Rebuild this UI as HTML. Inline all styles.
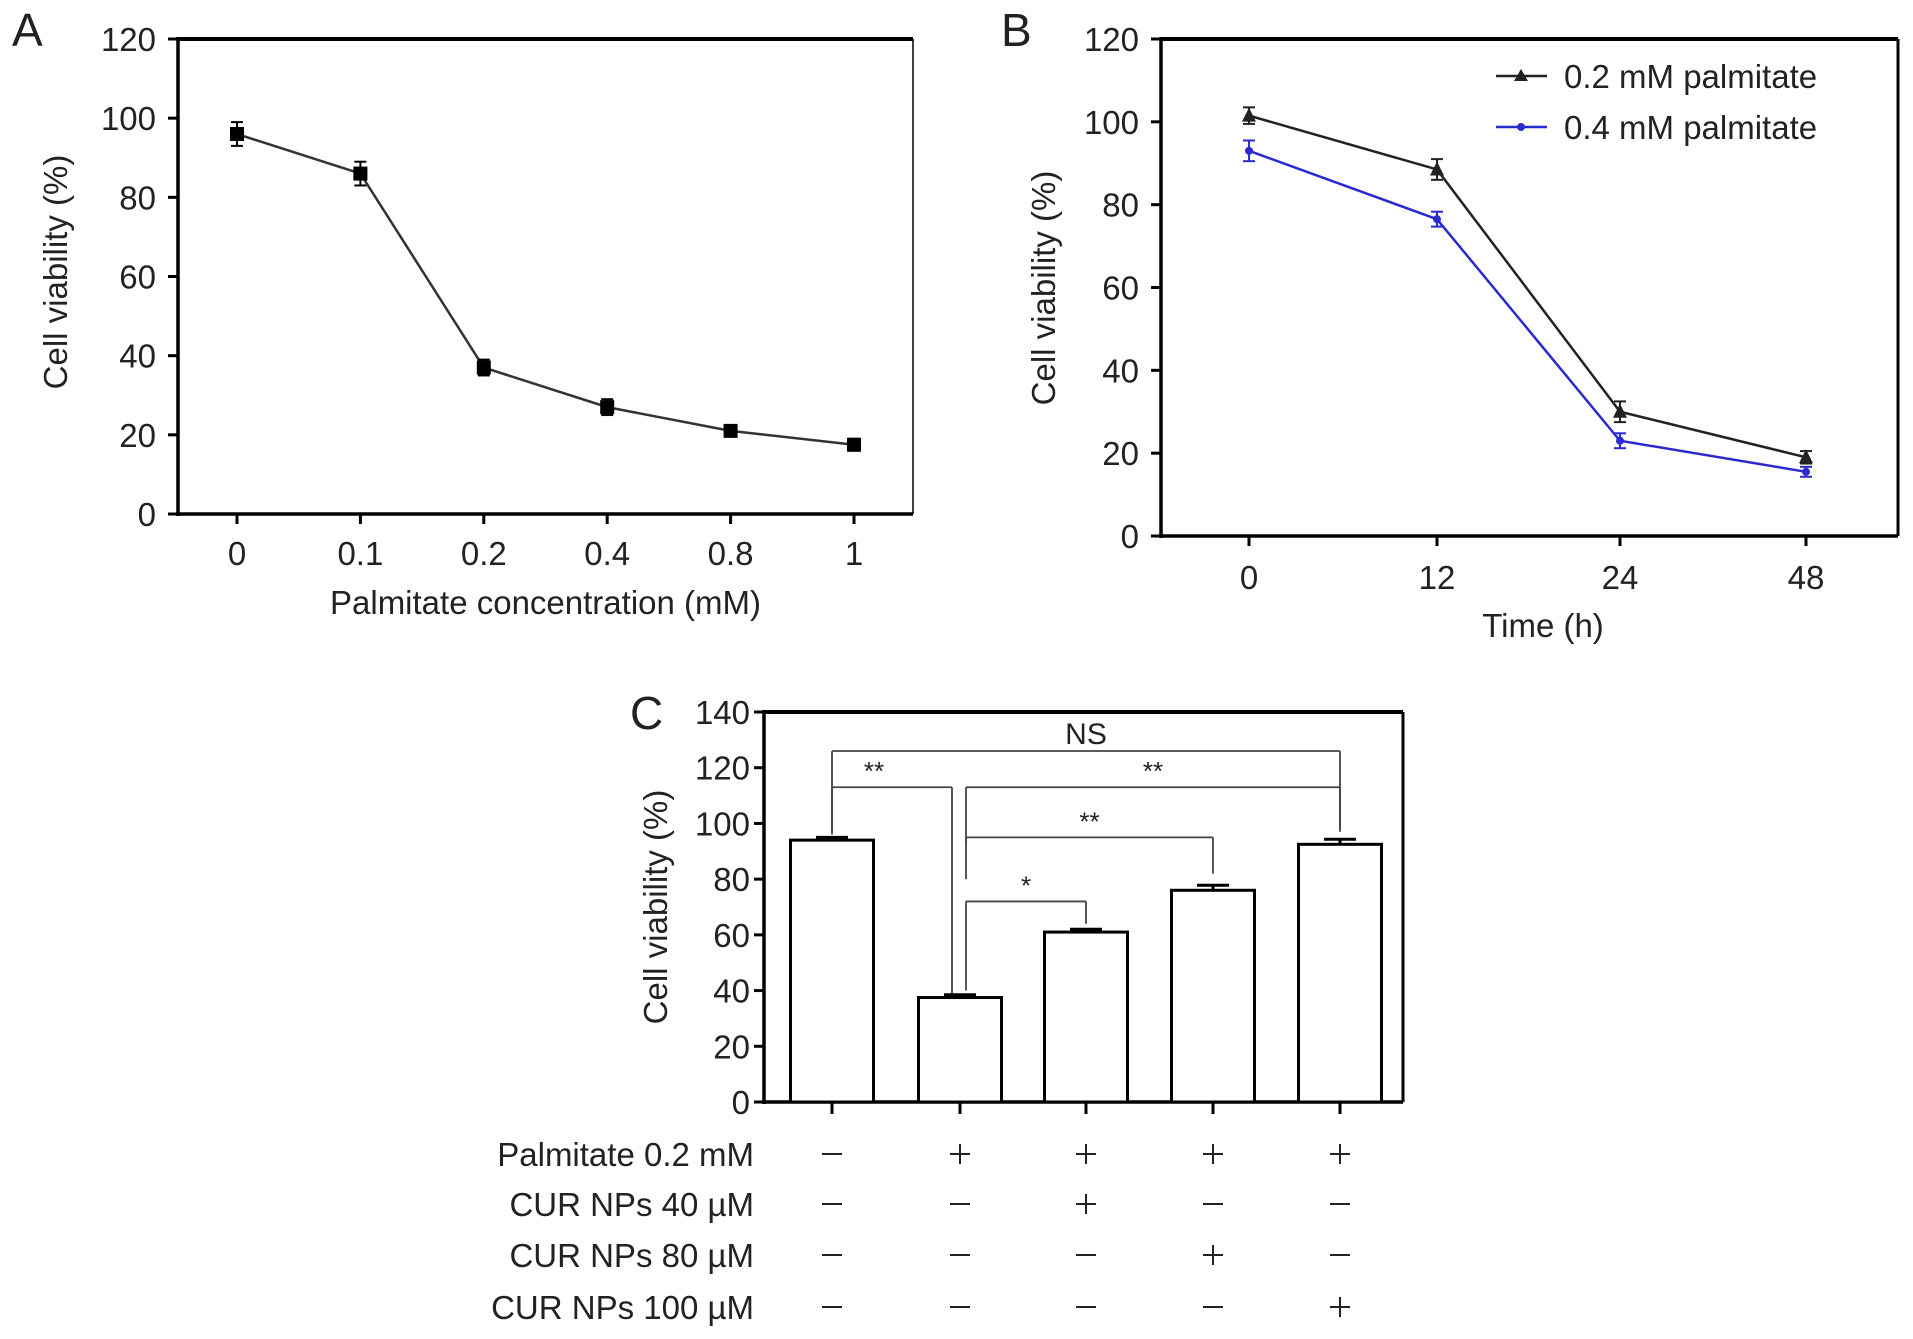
<!DOCTYPE html>
<html><head><meta charset="utf-8"><style>
html,body{margin:0;padding:0;background:#fff;}
svg{display:block;font-family:"Liberation Sans",Arial,sans-serif;}
</style></head><body>
<svg id="fig" width="1913" height="1339" viewBox="0 0 1913 1339"></svg>
<script>
// Panel A data
const aCats = ["0","0.1","0.2","0.4","0.8","1"];
const aVals = [96, 86, 37, 27, 21, 17.5];
const aErr = [3, 3, 2, 2, 1.2, 1.5];
const aTicks = [0,20,40,60,80,100,120];
// Panel B data
const bCats = ["0","12","24","48"];
const b02 = [101.5, 88.5, 30, 19];
const b02Err = [2, 2.5, 2.5, 1.5];
const b04 = [93, 76.5, 23, 15.5];
const b04Err = [2.5, 1.8, 1.8, 1.2];
const bTicks = [0,20,40,60,80,100,120];
// Panel C data
const cVals = [94, 37.5, 61, 76, 92.5];
const cErr = [1, 1, 1, 1.8, 1.8];
const cTicks = [0,20,40,60,80,100,120,140];
const cRowLabels = ["Palmitate 0.2 mM","CUR NPs 40 \u00b5M","CUR NPs 80 \u00b5M","CUR NPs 100 \u00b5M"];
const cRows = [["-","+","+","+","+"],["-","-","+","-","-"],["-","-","-","+","-"],["-","-","-","-","+"]];
// brackets: [from bar, to bar, level value, left leg end value, right leg end value, label]
const cBrackets = [[0,4,126,96,98,"NS"],[0,1,113,97,39,"**"],[1,4,113,93,97,"**"],[1,3,95,80,82,"**"],[1,2,72,40,64,"*"]];

const svg = document.getElementById('fig');
const NS = 'http://www.w3.org/2000/svg';
const TF = 33, AF = 33;
function el(tag, attrs, parent, text){
  const e = document.createElementNS(NS, tag);
  for (const k in attrs) e.setAttribute(k, attrs[k]);
  if (text !== undefined) e.textContent = text;
  (parent||svg).appendChild(e);
  return e;
}
function line(x1,y1,x2,y2,w,c,g){return el('line',{x1,y1,x2,y2,stroke:c||'#000','stroke-width':w||2},g);}
function txt(x,y,s,size,anchor,g,extra){const t=el('text',Object.assign({x,y,'font-size':size,'text-anchor':anchor||'middle',fill:'#222'},extra||{}),g,s);return t;}

// ---------- Panel A ----------
(function(){
  const L=178,R=913,T=39,B=514,max=120;
  const xs=[237,360,484,608,731,854];
  const y=v=>B-(v/max)*(B-T);
  const x=i=>xs[0]+(xs[5]-xs[0])*i/(aCats.length-1);
  const g=el('g',{});
  
  
  const lab=txt(12,46,'A',46,'start',g);  
  line(L,T,R,T,4,'#000',g); line(R,T,R,B,1.5,'#000',g);
  line(L,T-2,L,B+2,3.5,'#000',g); line(L-2,B,R,B,3.5,'#000',g);
  aTicks.forEach(v=>{line(L-10,y(v),L,y(v),3,'#000',g); const t=txt(L-22,y(v)+12,String(v),TF,'end',g);  });
  aCats.forEach((c,i)=>{line(x(i),B,x(i),B+10,3,'#000',g); const t=txt(x(i),y(0)+51,c,TF,'middle',g);  });
  const yt=txt(0,0,'Cell viability (%)',AF,'middle',g,{transform:'translate(67,272) rotate(-90)'});  
  const xt=txt((L+R)/2,614,'Palmitate concentration (mM)',AF,'middle',g);  
  const pts=aVals.map((v,i)=>x(i)+','+y(v)).join(' ');
  const pl=el('polyline',{points:pts,fill:'none',stroke:'#333','stroke-width':2.5},g);
   
  aVals.forEach((v,i)=>{
    line(x(i),y(v+aErr[i]),x(i),y(v-aErr[i]),2,'#000',g);
    line(x(i)-6,y(v+aErr[i]),x(i)+6,y(v+aErr[i]),2,'#000',g);
    line(x(i)-6,y(v-aErr[i]),x(i)+6,y(v-aErr[i]),2,'#000',g);
    const r=el('rect',{x:x(i)-7,y:y(v)-7,width:14,height:14,fill:'#000'},g);
     
  });
})();

// ---------- Panel B ----------
(function(){
  const L=1161,R=1898,T=39,B=536,max=120;
  const xs=[1249,1437,1620,1806];
  const y=v=>B-(v/max)*(B-T);
  const g=el('g',{});
  
  
  const lab=txt(1001,46,'B',46,'start',g);  
  line(L,T,R,T,4,'#000',g); line(R,T,R,B,3,'#000',g);
  line(L,T-2,L,B+2,3.5,'#000',g); line(L-2,B,R,B,3.5,'#000',g);
  bTicks.forEach(v=>{line(L-10,y(v),L,y(v),3,'#000',g); const t=txt(L-22,y(v)+12,String(v),TF,'end',g);  });
  bCats.forEach((c,i)=>{line(xs[i],B,xs[i],B+10,3,'#000',g); const t=txt(xs[i],589,c,TF,'middle',g);  });
  const yt=txt(0,0,'Cell viability (%)',AF,'middle',g,{transform:'translate(1055,288) rotate(-90)'});  
  const xt=txt(1543,637,'Time (h)',AF,'middle',g);  
  function series(vals,errs,color,marker,name){
    const pl=el('polyline',{points:vals.map((v,i)=>xs[i]+','+y(v)).join(' '),fill:'none',stroke:color,'stroke-width':2.5},g);
     
    vals.forEach((v,i)=>{
      const X=xs[i];
      line(X,y(v+errs[i]),X,y(v-errs[i]),2,color,g);
      line(X-6,y(v+errs[i]),X+6,y(v+errs[i]),2,color,g);
      line(X-6,y(v-errs[i]),X+6,y(v-errs[i]),2,color,g);
      let m;
      if(marker==='tri') m=el('polygon',{points:`${X},${y(v)-8} ${X-7},${y(v)+6} ${X+7},${y(v)+6}`,fill:color},g);
      else m=el('circle',{cx:X,cy:y(v),r:4,fill:color},g);
       
    });
  }
  series(b02,b02Err,'#222','tri','series-02mm');
  series(b04,b04Err,'#2a2ad0','dot','series-04mm');
  const lg=el('g',{},g);  
  line(1496,76,1547,76,2.5,'#222',lg); el('polygon',{points:'1521,69 1514,81 1528,81',fill:'#222'},lg);
  const l1=txt(1564,88,'0.2 mM palmitate',AF,'start',lg);  
  line(1496,127,1547,127,2.5,'#2a2ad0',lg); el('circle',{cx:1521,cy:127,r:4,fill:'#2a2ad0'},lg);
  const l2=txt(1564,139,'0.4 mM palmitate',AF,'start',lg);  
})();

// ---------- Panel C ----------
(function(){
  const L=764,R=1403,T=712,B=1102,max=140;
  const xs=[832,960,1086,1213,1340];
  const bw=83;
  const y=v=>B-(v/max)*(B-T);
  const g=el('g',{});
  
  
  const lab=txt(630,729,'C',46,'start',g);  
  line(L,T,R,T,4,'#000',g); line(R,T,R,B,3,'#000',g);
  line(L,T-2,L,B+2,3.5,'#000',g); line(L-2,B,R,B,3.5,'#000',g);
  cTicks.forEach(v=>{line(L-10,y(v),L,y(v),3,'#000',g); const t=txt(L-14,y(v)+12,String(v),TF,'end',g);  });
  const yt=txt(0,0,'Cell viability (%)',AF,'middle',g,{transform:'translate(667,907) rotate(-90)'});  
  cVals.forEach((v,i)=>{
    const X=xs[i];
    line(X,B,X,B+12,3,'#000',g);
    line(X,y(v),X,y(v+cErr[i]),3,'#000',g);
    line(X-16,y(v+cErr[i]),X+16,y(v+cErr[i]),3,'#000',g);
    const r=el('rect',{x:X-bw/2,y:y(v),width:bw,height:B-y(v),fill:'#fff',stroke:'#000','stroke-width':3},g);
     
  });
  cBrackets.forEach((b,k)=>{
    const x1=xs[b[0]]+(b[0]===1?6:0), x2=xs[b[1]]+(b[0]===0&&b[1]===1?-8:0);
    const bg=el('g',{},g);  
    line(x1,y(b[2]),x2,y(b[2]),1.8,'#444',bg);
    line(x1,y(b[2]),x1,y(b[3]),1.8,'#444',bg);
    line(x2,y(b[2]),x2,y(b[4]),1.8,'#444',bg);
    txt((x1+x2)/2 + (b[0]===0&&b[1]===1? -18:0),y(b[2])-7,b[5],b[5]==='NS'?30:26,'middle',bg);
  });
  const rowY=[1166,1216,1267,1319];
  cRowLabels.forEach((s,r)=>{
    const t=txt(754,rowY[r],s,TF,'end',g);  
    cRows[r].forEach((sym,i)=>{
      const X=xs[i], Y=rowY[r]-12;
      line(X-10,Y,X+10,Y,2,'#222',g);
      if(sym==='+') line(X,Y-10,X,Y+10,2,'#222',g);
    });
  });
})();
</script>
</body></html>
